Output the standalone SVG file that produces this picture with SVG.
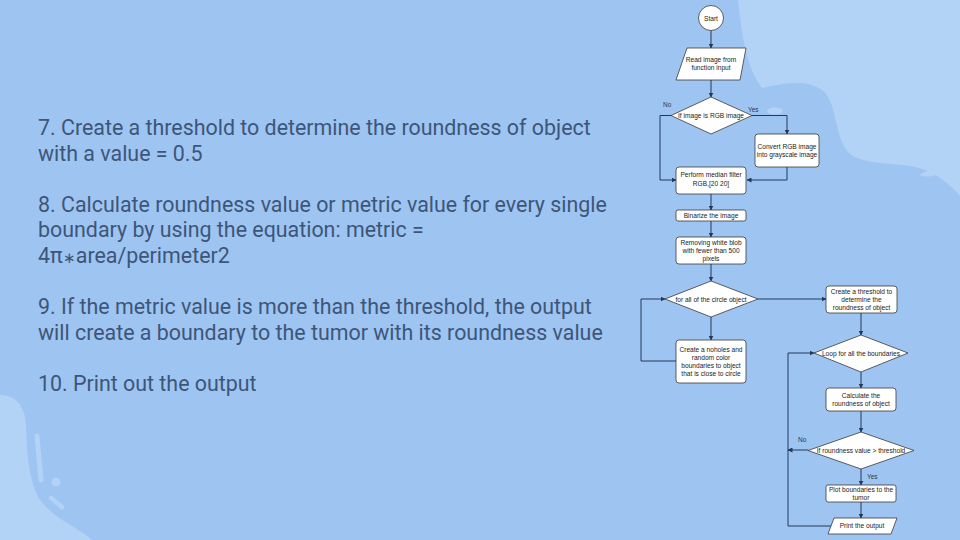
<svg xmlns="http://www.w3.org/2000/svg" width="960" height="540" viewBox="0 0 960 540">
<defs>
<style>
.bg{fill:#9ec4f2}
.lt{fill:#b2d2f6}
.para{font-family:Roboto,"Liberation Sans",sans-serif;font-size:21.4px;fill:#3d5678}
.box{fill:#ffffff;stroke:#3a3a3a;stroke-width:0.8}
.nt{font-family:"Liberation Sans",Arial,sans-serif;font-size:6.6px;fill:#222;text-anchor:middle}
.lbl{font-family:"Liberation Sans",Arial,sans-serif;font-size:6.5px;fill:#2a3a55}
.edge{fill:none;stroke:#22395a;stroke-width:1}
</style>
<marker id="ah" viewBox="0 0 10 10" refX="9" refY="5" markerWidth="5" markerHeight="5" orient="auto" markerUnits="userSpaceOnUse">
<path d="M0,0 L10,5 L0,10 z" fill="#22395a"/>
</marker>
</defs>
<rect class="bg" x="0" y="0" width="960" height="540"/>
<path class="lt" d="M738,0 C742,40 748,70 762,88 C780,84 805,78 822,90 C838,102 834,140 850,154 C870,168 905,160 930,172 C945,180 955,190 960,196 L960,0 Z"/>
<ellipse class="lt" cx="775" cy="111" rx="8" ry="3.5"/>
<ellipse class="lt" cx="932" cy="173" rx="12" ry="3" transform="rotate(-10 932 173)"/>
<path class="lt" d="M0,395 C15,395 25,405 26,425 C27,450 28,480 40,500 C55,520 80,528 92,540 L0,540 Z"/>
<line x1="37" y1="436" x2="41" y2="480" stroke="#b2d2f6" stroke-width="5" stroke-linecap="round"/>
<circle cx="56" cy="482" r="4.5" fill="#b2d2f6"/>
<line x1="51" y1="498" x2="62" y2="507" stroke="#b2d2f6" stroke-width="4.5" stroke-linecap="round"/>

<g id="paragraphs">
<text class="para" x="38" y="135">7. Create a threshold to determine the roundness of object</text>
<text class="para" x="38" y="161">with a value = 0.5</text>
<text class="para" x="38" y="212">8. Calculate roundness value or metric value for every single</text>
<text class="para" x="38" y="237">boundary by using the equation: metric =</text>
<text class="para" x="38" y="263">4π<tspan font-size="15px">∗</tspan>area/perimeter2</text>
<text class="para" x="38" y="314">9. If the metric value is more than the threshold, the output</text>
<text class="para" x="38" y="340">will create a boundary to the tumor with its roundness value</text>
<text class="para" x="38" y="391">10. Print out the output</text>
</g>

<g id="connectors">
<path class="edge" d="M711,30 L711,48" marker-end="url(#ah)"/>
<path class="edge" d="M711,80 L711,97" marker-end="url(#ah)"/>
<path class="edge" d="M671,115.5 L660,115.5 L660,180 L676,180" marker-end="url(#ah)"/>
<path class="edge" d="M752,115.5 L787,115.5 L787,134" marker-end="url(#ah)"/>
<path class="edge" d="M787,167 L787,180 L747,180" marker-end="url(#ah)"/>
<path class="edge" d="M711,194 L711,210" marker-end="url(#ah)"/>
<path class="edge" d="M711,221 L711,237" marker-end="url(#ah)"/>
<path class="edge" d="M711,264 L711,281" marker-end="url(#ah)"/>
<path class="edge" d="M711,317 L711,340" marker-end="url(#ah)"/>
<path class="edge" d="M676,361 L641,361 L641,299 L665,299" marker-end="url(#ah)"/>
<path class="edge" d="M758,299 L826,299" marker-end="url(#ah)"/>
<path class="edge" d="M861,313 L861,335" marker-end="url(#ah)"/>
<path class="edge" d="M861,372 L861,388" marker-end="url(#ah)"/>
<path class="edge" d="M861,411 L861,432" marker-end="url(#ah)"/>
<path class="edge" d="M808,450 L788,450" marker-end="url(#ah)"/>
<path class="edge" d="M861,469 L861,485" marker-end="url(#ah)"/>
<path class="edge" d="M861,502 L861,518" marker-end="url(#ah)"/>
<path class="edge" d="M831,526 L788,526 L788,353 L814,353" marker-end="url(#ah)"/>
<text class="lbl" x="663" y="107">No</text>
<text class="lbl" x="748" y="112">Yes</text>
<text class="lbl" x="798" y="442">No</text>
<text class="lbl" x="867" y="479">Yes</text>
</g>

<g id="start">
<circle class="box" cx="711" cy="18" r="12.5"/>
<text class="nt" x="711" y="20.5">Start</text>
</g>
<g id="read">
<polygon class="box" points="687,48 746,48 740,80 676,80"/>
<text class="nt" x="711" y="62">Read image from</text>
<text class="nt" x="711" y="70">function input</text>
</g>
<g id="isrgb">
<polygon class="box" points="711,97 752,115.5 711,134 671,115.5"/>
<text class="nt" x="711" y="118">If image is RGB image</text>
</g>
<g id="convert">
<rect class="box" x="755" y="134" width="64" height="33" rx="3"/>
<text class="nt" x="787" y="149">Convert RGB image</text>
<text class="nt" x="787" y="157">into grayscale image</text>
</g>
<g id="median">
<rect class="box" x="676" y="167" width="70" height="27" rx="3"/>
<text class="nt" x="711" y="177">Perform median filter</text>
<text class="nt" x="711" y="186">RGB,[20 20]</text>
</g>
<g id="binarize">
<rect class="box" x="676" y="210" width="70" height="11" rx="2"/>
<text class="nt" x="711" y="218">Binarize the image</text>
</g>
<g id="removing">
<rect class="box" x="676" y="237" width="70" height="27" rx="3"/>
<text class="nt" x="711" y="245">Removing white blob</text>
<text class="nt" x="711" y="253">with fewer than 500</text>
<text class="nt" x="711" y="261">pixels</text>
</g>
<g id="forall">
<polygon class="box" points="711,281 758,299 711,317 665,299"/>
<text class="nt" x="711" y="301.5">for all of the circle object</text>
</g>
<g id="noholes">
<rect class="box" x="676" y="340" width="70" height="43" rx="3"/>
<text class="nt" x="711" y="352">Create a noholes and</text>
<text class="nt" x="711" y="360">random color</text>
<text class="nt" x="711" y="368">boundaries to object</text>
<text class="nt" x="711" y="376">that is close to circle</text>
</g>
<g id="threshold">
<rect class="box" x="826" y="286" width="71" height="27" rx="3"/>
<text class="nt" x="861.5" y="294">Create a threshold to</text>
<text class="nt" x="861.5" y="302">determine the</text>
<text class="nt" x="861.5" y="310">roundness of object</text>
</g>
<g id="loop">
<polygon class="box" points="861,335 908,353 861,372 814,353"/>
<text class="nt" x="861" y="355.5">Loop for all the boundaries</text>
</g>
<g id="calculate">
<rect class="box" x="826" y="388" width="70" height="23" rx="3"/>
<text class="nt" x="861" y="398">Calculate the</text>
<text class="nt" x="861" y="406">roundness of object</text>
</g>
<g id="ifround">
<polygon class="box" points="861,432 914,450.5 861,469 808,450.5"/>
<text class="nt" x="861" y="453">If roundness value &gt; threshold</text>
</g>
<g id="plot">
<rect class="box" x="826" y="485" width="70" height="17" rx="2"/>
<text class="nt" x="861" y="492">Plot boundaries to the</text>
<text class="nt" x="861" y="500">tumor</text>
</g>
<g id="print">
<polygon class="box" points="834,518 897,518 891,534 828,534"/>
<text class="nt" x="862" y="528">Print the output</text>
</g>
</svg>
